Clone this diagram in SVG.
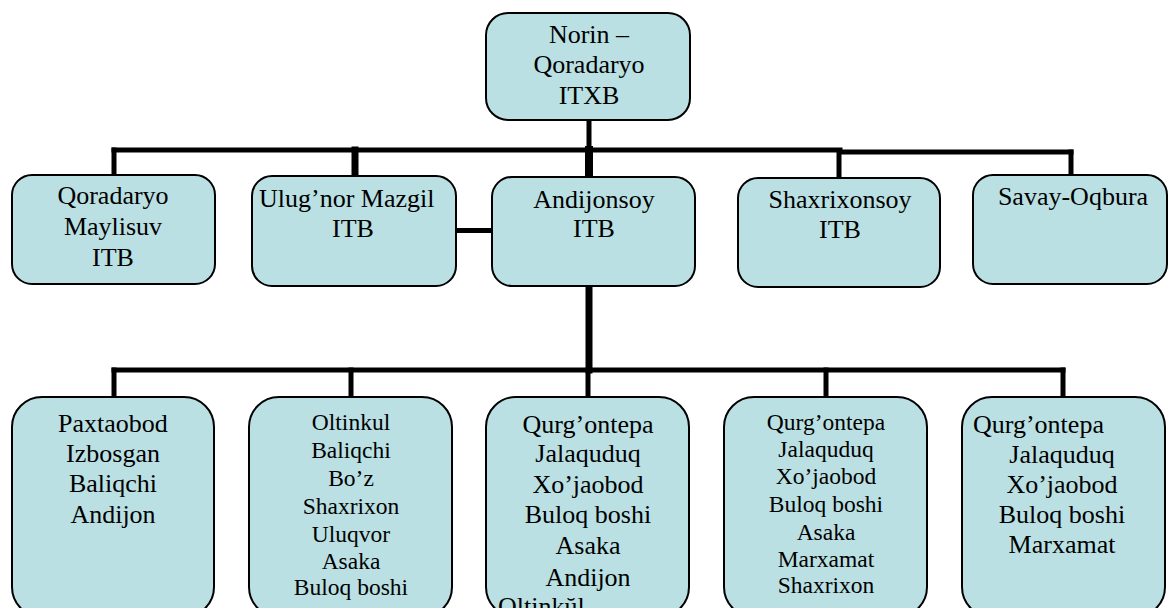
<svg xmlns="http://www.w3.org/2000/svg" width="1169" height="608" viewBox="0 0 1169 608">
  <style>
    .box { fill: #bae0e3; stroke: #000; stroke-width: 2; }
    .link { stroke: #000; fill: none; stroke-linecap: square; }
    text { font-family: "Liberation Serif", "Times New Roman", serif; fill: #000; }
    .t26 { font-size: 26px; text-anchor: middle; }
    .t23 { font-size: 23.5px; text-anchor: middle; }
    .left { text-anchor: start; }
  </style>
  <rect width="1169" height="608" fill="#fff"/>

  <!-- connectors -->
  <g id="connectors">
    <line class="link" x1="589" y1="122" x2="589" y2="150" stroke-width="5"/>
    <line class="link" x1="589" y1="150" x2="589" y2="176" stroke-width="8"/>
    <line class="link" x1="114" y1="150" x2="840" y2="150" stroke-width="5"/>
    <line class="link" x1="840" y1="152" x2="1071" y2="152" stroke-width="5"/>
    <line class="link" x1="114" y1="150" x2="114" y2="174" stroke-width="5"/>
    <line class="link" x1="355" y1="150" x2="355" y2="175" stroke-width="7"/>
    <line class="link" x1="839" y1="152" x2="839" y2="177" stroke-width="5"/>
    <line class="link" x1="1071" y1="152" x2="1071" y2="174" stroke-width="5"/>
    <line class="link" x1="457" y1="230.5" x2="491" y2="230.5" stroke-width="5"/>
    <line class="link" x1="589" y1="287" x2="589" y2="370" stroke-width="7"/>
    <line class="link" x1="114" y1="370" x2="1063" y2="370" stroke-width="5"/>
    <line class="link" x1="114" y1="370" x2="114" y2="396" stroke-width="5"/>
    <line class="link" x1="351" y1="370" x2="351" y2="396" stroke-width="5"/>
    <line class="link" x1="588" y1="370" x2="588" y2="396" stroke-width="5"/>
    <line class="link" x1="826" y1="370" x2="826" y2="396" stroke-width="5"/>
    <line class="link" x1="1063" y1="370" x2="1063" y2="396" stroke-width="5"/>
  </g>

  <!-- head office -->
  <g id="node-itxb">
    <rect class="box" x="486" y="13" width="204" height="107" rx="22"/>
    <text class="t26" x="589" y="43">Norin –</text>
    <text class="t26" x="589" y="73">Qoradaryo</text>
    <text class="t26" x="589" y="104">ITXB</text>
  </g>

  <!-- middle row -->
  <g id="node-qoradaryo-maylisuv">
    <rect class="box" x="12" y="175" width="203" height="109" rx="20"/>
    <text class="t26" x="113" y="204">Qoradaryo</text>
    <text class="t26" x="113" y="235">Maylisuv</text>
    <text class="t26" x="113" y="266">ITB</text>
  </g>
  <g id="node-ulugnor">
    <rect class="box" x="252" y="176" width="204" height="110" rx="20"/>
    <text class="t26 left" x="259" y="207">Ulug’nor Mazgil</text>
    <text class="t26" x="353" y="237">ITB</text>
  </g>
  <g id="node-andijonsoy">
    <rect class="box" x="492" y="177" width="203" height="109" rx="20"/>
    <text class="t26" x="594" y="208">Andijonsoy</text>
    <text class="t26" x="594" y="237">ITB</text>
  </g>
  <g id="node-shaxrixonsoy">
    <rect class="box" x="738" y="178" width="202" height="109" rx="20"/>
    <text class="t26" x="840" y="208">Shaxrixonsoy</text>
    <text class="t26" x="840" y="238">ITB</text>
  </g>
  <g id="node-savay">
    <rect class="box" x="973" y="175" width="194" height="109" rx="20"/>
    <text class="t26" x="1073" y="205">Savay-Oqbura</text>
  </g>

  <!-- bottom row -->
  <g id="node-b1">
    <rect class="box" x="12" y="397" width="202" height="220" rx="30"/>
    <text class="t26" x="113" y="432">Paxtaobod</text>
    <text class="t26" x="113" y="462">Izbosgan</text>
    <text class="t26" x="113" y="492">Baliqchi</text>
    <text class="t26" x="113" y="523">Andijon</text>
  </g>
  <g id="node-b2">
    <rect class="box" x="249" y="397" width="203" height="220" rx="30"/>
    <text class="t23" x="351" y="430">Oltinkul</text>
    <text class="t23" x="351" y="458">Baliqchi</text>
    <text class="t23" x="351" y="486">Bo’z</text>
    <text class="t23" x="351" y="514">Shaxrixon</text>
    <text class="t23" x="351" y="542">Uluqvor</text>
    <text class="t23" x="351" y="569">Asaka</text>
    <text class="t23" x="351" y="595">Buloq boshi</text>
  </g>
  <g id="node-b3">
    <rect class="box" x="486" y="397" width="203" height="220" rx="30"/>
    <text class="t26" x="588" y="433">Qurg’ontepa</text>
    <text class="t26" x="588" y="462">Jalaquduq</text>
    <text class="t26" x="588" y="493">Xo’jaobod</text>
    <text class="t26" x="588" y="523">Buloq boshi</text>
    <text class="t26" x="588" y="554">Asaka</text>
    <text class="t26" x="588" y="586">Andijon</text>
    <text class="t26 left" x="498" y="615">Oltinkŭl</text>
  </g>
  <g id="node-b4">
    <rect class="box" x="724" y="397" width="203" height="220" rx="30"/>
    <text class="t23" x="826" y="430">Qurg’ontepa</text>
    <text class="t23" x="826" y="457">Jalaquduq</text>
    <text class="t23" x="826" y="484">Xo’jaobod</text>
    <text class="t23" x="826" y="512">Buloq boshi</text>
    <text class="t23" x="826" y="540">Asaka</text>
    <text class="t23" x="826" y="567">Marxamat</text>
    <text class="t23" x="826" y="593">Shaxrixon</text>
  </g>
  <g id="node-b5">
    <rect class="box" x="962" y="397" width="203" height="220" rx="30"/>
    <text class="t26 left" x="973" y="433">Qurg’ontepa</text>
    <text class="t26" x="1062" y="463">Jalaquduq</text>
    <text class="t26" x="1062" y="493">Xo’jaobod</text>
    <text class="t26" x="1062" y="523">Buloq boshi</text>
    <text class="t26" x="1062" y="553">Marxamat</text>
  </g>
</svg>
